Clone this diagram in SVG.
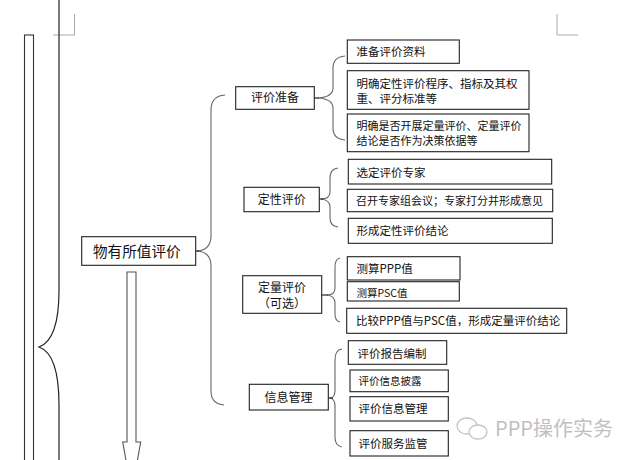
<svg xmlns="http://www.w3.org/2000/svg" width="640" height="460" viewBox="0 0 640 460">
<style>
.box{fill:#fff;stroke:#222;stroke-width:1.1}
.br{fill:none;stroke:#666;stroke-width:1.1}
.dash{stroke:#333;stroke-width:1.3}
.t{font-family:"Noto Sans CJK SC","Liberation Sans",sans-serif;font-size:11.5px;fill:#111}
.tm{font-family:"Noto Sans CJK SC","Liberation Sans",sans-serif;font-size:12px;fill:#111;text-anchor:middle}
.crop{fill:none;stroke:#aaa;stroke-width:1}
</style>
<rect width="640" height="460" fill="#fff"/>
<g id="page-marks">
<path class="crop" d="M53,35 H74.5 V14"/>
<path class="crop" d="M557,14 V35 H578"/>
</g>
<g id="left-bar">
<rect x="24.5" y="35" width="9" height="440" fill="#fff" stroke="#333" stroke-width="1.1"/>
</g>
<g id="connectors">
<path d="M59,0 L59,290 Q59,340 39,347 Q59,354 59,405 L59,460" fill="none" stroke="#222" stroke-width="1.2"/>
<path class="br" d="M225,95 Q211,96 211,110 L211,236 Q211,250 197,251 Q211,252 211,266 L211,391 Q211,404 224,405"/>
<line class="dash" x1="195.5" y1="251" x2="199" y2="251"/>
<path class="br" d="M345,56 Q333,57 333,68 L333,88 Q333,97 318,98 Q333,99 333,108 L333,128 Q333,139 345,140"/>
<line class="dash" x1="314" y1="98" x2="319" y2="98"/>
<path class="br" d="M338,168 Q330,169 330,178 L330,192 Q330,199 321,199 Q330,200 330,207 L330,218 Q330,226 338,227"/>
<line class="dash" x1="319" y1="199" x2="323" y2="199"/>
<path class="br" d="M340,258 Q335,259 335,267 L335,288 Q335,295 327,295 Q335,296 335,303 L335,314 Q335,321 340,322"/>
<line class="dash" x1="321.5" y1="295" x2="328" y2="295"/>
<path class="br" d="M342,349 Q335,350 335,360 L335,390 Q335,398 330,398 Q335,399 335,406 L335,437 Q335,446 342,447"/>
<line class="dash" x1="328" y1="398" x2="333" y2="398"/>
<polygon points="127,272 136,272 136,442 140.7,442 131.7,492 122.7,442 127,442" fill="#fff" stroke="#555" stroke-width="1.1"/>
</g>
<g id="main">
<rect class="box" x="81.7" y="236.7" width="114" height="28.6"/>
<text x="93" y="256.5" style="font-family:'Noto Sans CJK SC','Liberation Sans',sans-serif;font-size:14.6px;fill:#111">物有所值评价</text>
</g>
<g id="n-prep">
<rect class="box" x="235.7" y="86.7" width="78.6" height="22.6"/>
<text class="tm" x="275" y="102">评价准备</text>
</g>
<g id="n-prep-1">
<rect class="box" x="347.3" y="40" width="112" height="23.3"/>
<text class="t" x="356.5" y="56">准备评价资料</text>
</g>
<g id="n-prep-2">
<rect class="box" x="347.3" y="70.7" width="181.7" height="38.6"/>
<text class="t"><tspan x="356.5" y="87.5">明确定性评价程序、指标及其权</tspan><tspan x="356.5" y="102.5">重、评分标准等</tspan></text>
</g>
<g id="n-prep-3">
<rect class="box" x="347.3" y="114" width="181.7" height="37.7"/>
<text class="t" style="font-size:11px"><tspan x="356.5" y="129.5">明确是否开展定量评价、定量评价</tspan><tspan x="356.5" y="145">结论是否作为决策依据等</tspan></text>
</g>
<g id="n-qual">
<rect class="box" x="244" y="187.3" width="75.3" height="24.4"/>
<text class="tm" x="281.7" y="203.5">定性评价</text>
</g>
<g id="n-qual-1">
<rect class="box" x="348.3" y="159.3" width="203.4" height="24.7"/>
<text class="t" x="356.5" y="176.5">选定评价专家</text>
</g>
<g id="n-qual-2">
<rect class="box" x="347.3" y="189.3" width="205.4" height="22.4"/>
<text class="t" x="356" y="205" style="font-size:11px">召开专家组会议；专家打分并形成意见</text>
</g>
<g id="n-qual-3">
<rect class="box" x="348.3" y="218.3" width="204" height="25"/>
<text class="t" x="356.5" y="235">形成定性评价结论</text>
</g>
<g id="n-quant">
<rect class="box" x="242.7" y="275.7" width="79" height="37.6"/>
<text class="tm"><tspan x="282" y="292">定量评价</tspan><tspan x="282" y="307.5">（可选）</tspan></text>
</g>
<g id="n-quant-1">
<rect class="box" x="347.3" y="256.7" width="112.7" height="23.3"/>
<text class="t" x="356.5" y="272.5">测算PPP值</text>
</g>
<g id="n-quant-2">
<rect class="box" x="347.3" y="281.7" width="112" height="19.3"/>
<text class="t" x="356.5" y="296.5" style="font-size:10.5px">测算PSC值</text>
</g>
<g id="n-quant-3">
<rect class="box" x="346.7" y="308.3" width="220" height="25"/>
<text class="t" x="356" y="325">比较PPP值与PSC值，形成定量评价结论</text>
</g>
<g id="n-info">
<rect class="box" x="249.3" y="384.3" width="79" height="25.7"/>
<text class="tm" x="288.5" y="402">信息管理</text>
</g>
<g id="n-info-1">
<rect class="box" x="348.3" y="340.7" width="98.4" height="23.6"/>
<text class="t" x="357.5" y="357.5">评价报告编制</text>
</g>
<g id="n-info-2">
<rect class="box" x="350" y="370" width="98.3" height="21.7"/>
<text class="t" x="358.5" y="385" style="font-size:10.5px">评价信息披露</text>
</g>
<g id="n-info-3">
<rect class="box" x="350" y="396.7" width="98.3" height="24.3"/>
<text class="t" x="358.5" y="413">评价信息管理</text>
</g>
<g id="n-info-4">
<rect class="box" x="350" y="430.7" width="98.3" height="25.3"/>
<text class="t" x="358.5" y="447.5">评价服务监管</text>
</g>
<g id="watermark">
<ellipse cx="467" cy="426" rx="10" ry="8" fill="none" stroke="#c4c4c4" stroke-width="1.3"/>
<ellipse cx="478" cy="432" rx="9" ry="7" fill="#fff" stroke="#c4c4c4" stroke-width="1.3"/>
<text x="495" y="436" style="font-family:'Noto Sans CJK SC','Liberation Sans',sans-serif;font-size:20px;fill:#c0c0c0">PPP操作实务</text>
</g>
</svg>
